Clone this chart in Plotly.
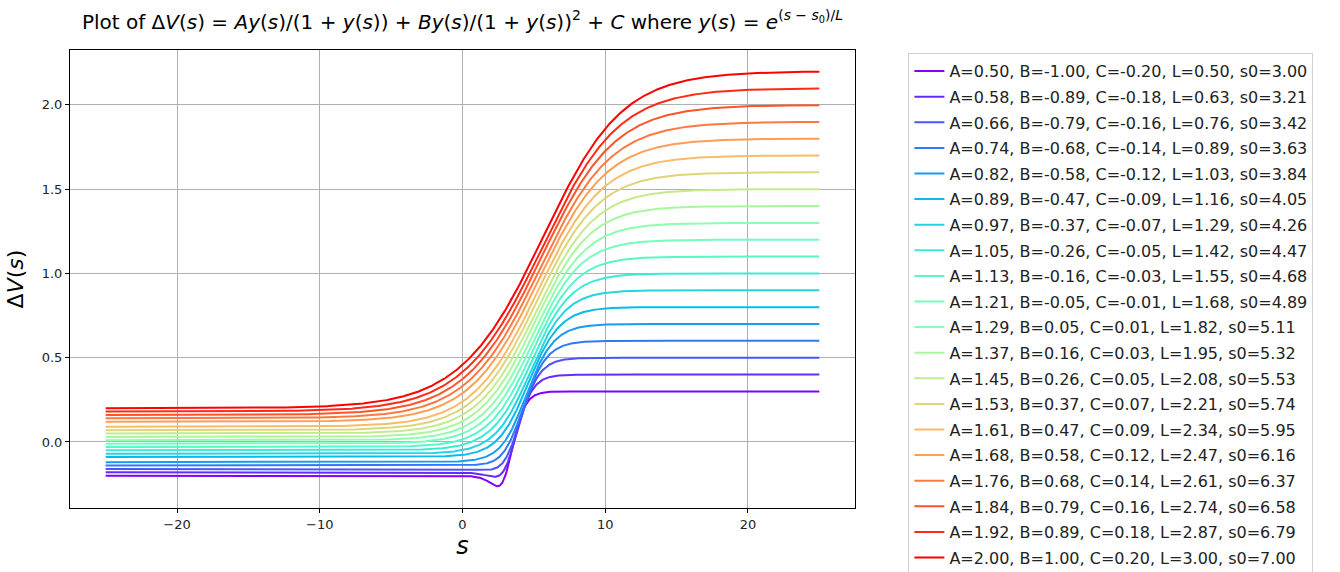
import numpy as np
import plotly.graph_objects as go

# Parameters (as listed in the legend)
A_vals = [0.50, 0.58, 0.66, 0.74, 0.82, 0.89, 0.97, 1.05, 1.13, 1.21,
          1.29, 1.37, 1.45, 1.53, 1.61, 1.68, 1.76, 1.84, 1.92, 2.00]
B_vals = [-1.00, -0.89, -0.79, -0.68, -0.58, -0.47, -0.37, -0.26, -0.16, -0.05,
          0.05, 0.16, 0.26, 0.37, 0.47, 0.58, 0.68, 0.79, 0.89, 1.00]
C_vals = [-0.20, -0.18, -0.16, -0.14, -0.12, -0.09, -0.07, -0.05, -0.03, -0.01,
          0.01, 0.03, 0.05, 0.07, 0.09, 0.12, 0.14, 0.16, 0.18, 0.20]
L_vals = [0.50, 0.63, 0.76, 0.89, 1.03, 1.16, 1.29, 1.42, 1.55, 1.68,
          1.82, 1.95, 2.08, 2.21, 2.34, 2.47, 2.61, 2.74, 2.87, 3.00]
s0_vals = [3.00, 3.21, 3.42, 3.63, 3.84, 4.05, 4.26, 4.47, 4.68, 4.89,
           5.11, 5.32, 5.53, 5.74, 5.95, 6.16, 6.37, 6.58, 6.79, 7.00]

x_ticks = [-20, -10, 0, 10, 20]
y_ticks = [0.0, 0.5, 1.0, 1.5, 2.0]
y_tick_labels = ["0.0", "0.5", "1.0", "1.5", "2.0"]

s = np.linspace(-25, 25, 1000)


def rainbow(t):
    r = min(max(abs(2 * t - 0.5), 0), 1)
    g = min(max(np.sin(np.pi * t), 0), 1)
    b = min(max(np.cos(np.pi * t / 2), 0), 1)
    return "rgb(%d,%d,%d)" % (round(r * 255), round(g * 255), round(b * 255))


fig = go.Figure()
n = len(A_vals)
for i in range(n):
    A, B, C, L, s0 = A_vals[i], B_vals[i], C_vals[i], L_vals[i], s0_vals[i]
    y = np.exp((s - s0) / L)
    dv = A * y / (1 + y) + B * y / (1 + y) ** 2 + C
    fig.add_trace(go.Scatter(
        x=s, y=dv, mode="lines",
        line=dict(color=rainbow(i / (n - 1)), width=2),
        name="A=%.2f, B=%.2f, C=%.2f, L=%.2f, s0=%.2f" % (A, B, C, L, s0),
        legendgroup="g%02d" % i,
    ))

font_family = "DejaVu Sans"
title_html = ("Plot of Δ<i>V</i>(<i>s</i>) = <i>Ay</i>(<i>s</i>)/(1 + <i>y</i>(<i>s</i>))"
              " + <i>By</i>(<i>s</i>)/(1 + <i>y</i>(<i>s</i>))<sup>2</sup> + <i>C</i>"
              " where <i>y</i>(<i>s</i>) = <i>e</i><sup>(<i>s</i> − <i>s</i><sub>0</sub>)/<i>L</i></sup>")

fig.update_layout(
    width=1340, height=572,
    margin=dict(l=70, r=485, t=50, b=64, autoexpand=False),
    plot_bgcolor="white", paper_bgcolor="white",
    font=dict(family=font_family, color="#222"),
    title=dict(text=title_html, x=(70 + 855) / 2 / 1340, xanchor="center",
               y=0.962, yanchor="middle", font=dict(size=20, color="black")),
    showlegend=True,
    legend=dict(x=1.068, y=0.993, xanchor="left", yanchor="top",
                font=dict(size=16, color="#222"),
                bordercolor="#d0d0d0", borderwidth=1, bgcolor="white",
                tracegroupgap=1.8, traceorder="grouped", maxheight=700),
    xaxis=dict(range=[-27.5, 27.5], tickvals=x_ticks, showgrid=True,
               gridcolor="#b0b0b0", gridwidth=1, zeroline=False,
               showline=True, linecolor="black", linewidth=1, mirror=True,
               ticks="outside", ticklen=4, tickcolor="black",
               tickfont=dict(size=13, color="#222"),
               title=dict(text="<i>s</i>", font=dict(size=24, color="black"), standoff=6)),
    yaxis=dict(range=[-0.392, 2.326], tickvals=y_ticks, ticktext=y_tick_labels,
               showgrid=True, gridcolor="#b0b0b0", gridwidth=1, zeroline=False,
               showline=True, linecolor="black", linewidth=1, mirror=True,
               ticks="outside", ticklen=4, tickcolor="black",
               tickfont=dict(size=13, color="#222"),
               title=dict(text="Δ<i>V</i>(<i>s</i>)", font=dict(size=22, color="black"), standoff=12)),
)

fig.write_html("out.html")
